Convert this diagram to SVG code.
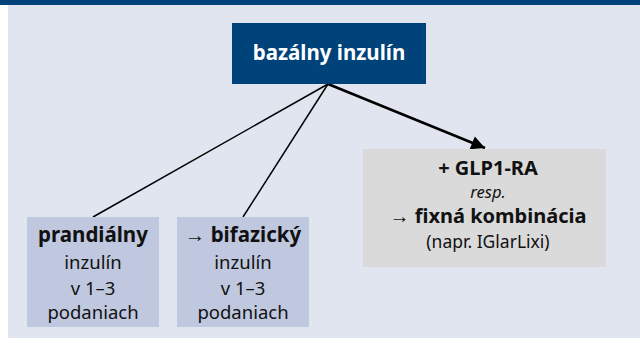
<svg xmlns="http://www.w3.org/2000/svg" width="640" height="343" viewBox="0 0 640 343">
<defs>
<style>
text{font-family:"Noto Sans","Liberation Sans",Arial,sans-serif;text-anchor:middle;fill:#111}
.b{font-weight:bold}
.r{font-size:18.5px}
.bl{font-size:20px;font-weight:bold}
.conn{stroke:#000;fill:none}
</style>
<marker id="ah" viewBox="0 0 10 10" refX="10" refY="5" markerWidth="6" markerHeight="5.5" markerUnits="strokeWidth" orient="auto">
<path d="M0,0 L10,5 L0,10 z" fill="#000"/>
</marker>
</defs>
<rect x="0" y="0" width="640" height="343" fill="#fff"/>
<rect x="8" y="5" width="632" height="333" fill="#e1e5f0"/>
<rect x="0" y="0" width="640" height="5" fill="#00427a"/>
<g id="connectors">
<line class="conn" x1="328" y1="84" x2="93" y2="217" stroke-width="1.5"/>
<line class="conn" x1="328" y1="84" x2="243" y2="217" stroke-width="1.5"/>
<line class="conn" x1="328" y1="84" x2="485" y2="148" stroke-width="2.5" marker-end="url(#ah)"/>
</g>
<g id="basal">
<rect x="232" y="23" width="194" height="61" fill="#00427a"/>
<text x="329" y="60" class="b" style="font-size:20.5px;fill:#fff">bazálny inzulín</text>
</g>
<g id="prandial">
<rect x="27" y="217" width="132" height="110" fill="#c0c8df"/>
<text x="93" y="242" class="b" style="font-size:20.5px">prandiálny</text>
<text x="93" y="269" class="r">inzulín</text>
<text x="93" y="295" class="r">v 1–3</text>
<text x="93" y="319" class="r">podaniach</text>
</g>
<g id="biphasic">
<rect x="177" y="217" width="132" height="110" fill="#c0c8df"/>
<text x="243" y="242" class="b" style="font-size:20.5px">→ bifazický</text>
<text x="243" y="269" class="r">inzulín</text>
<text x="243" y="295" class="r">v 1–3</text>
<text x="243" y="319" class="r">podaniach</text>
</g>
<g id="glp1">
<rect x="363" y="149" width="243" height="118" fill="#dadada"/>
<text x="488" y="175" class="bl">+ GLP1-RA</text>
<text x="488" y="198" class="r" style="font-style:italic;font-size:16.5px">resp.</text>
<text x="488" y="223" class="bl">→ fixná kombinácia</text>
<text x="488" y="248" class="r" style="font-size:17.5px">(napr. IGlarLixi)</text>
</g>
</svg>
